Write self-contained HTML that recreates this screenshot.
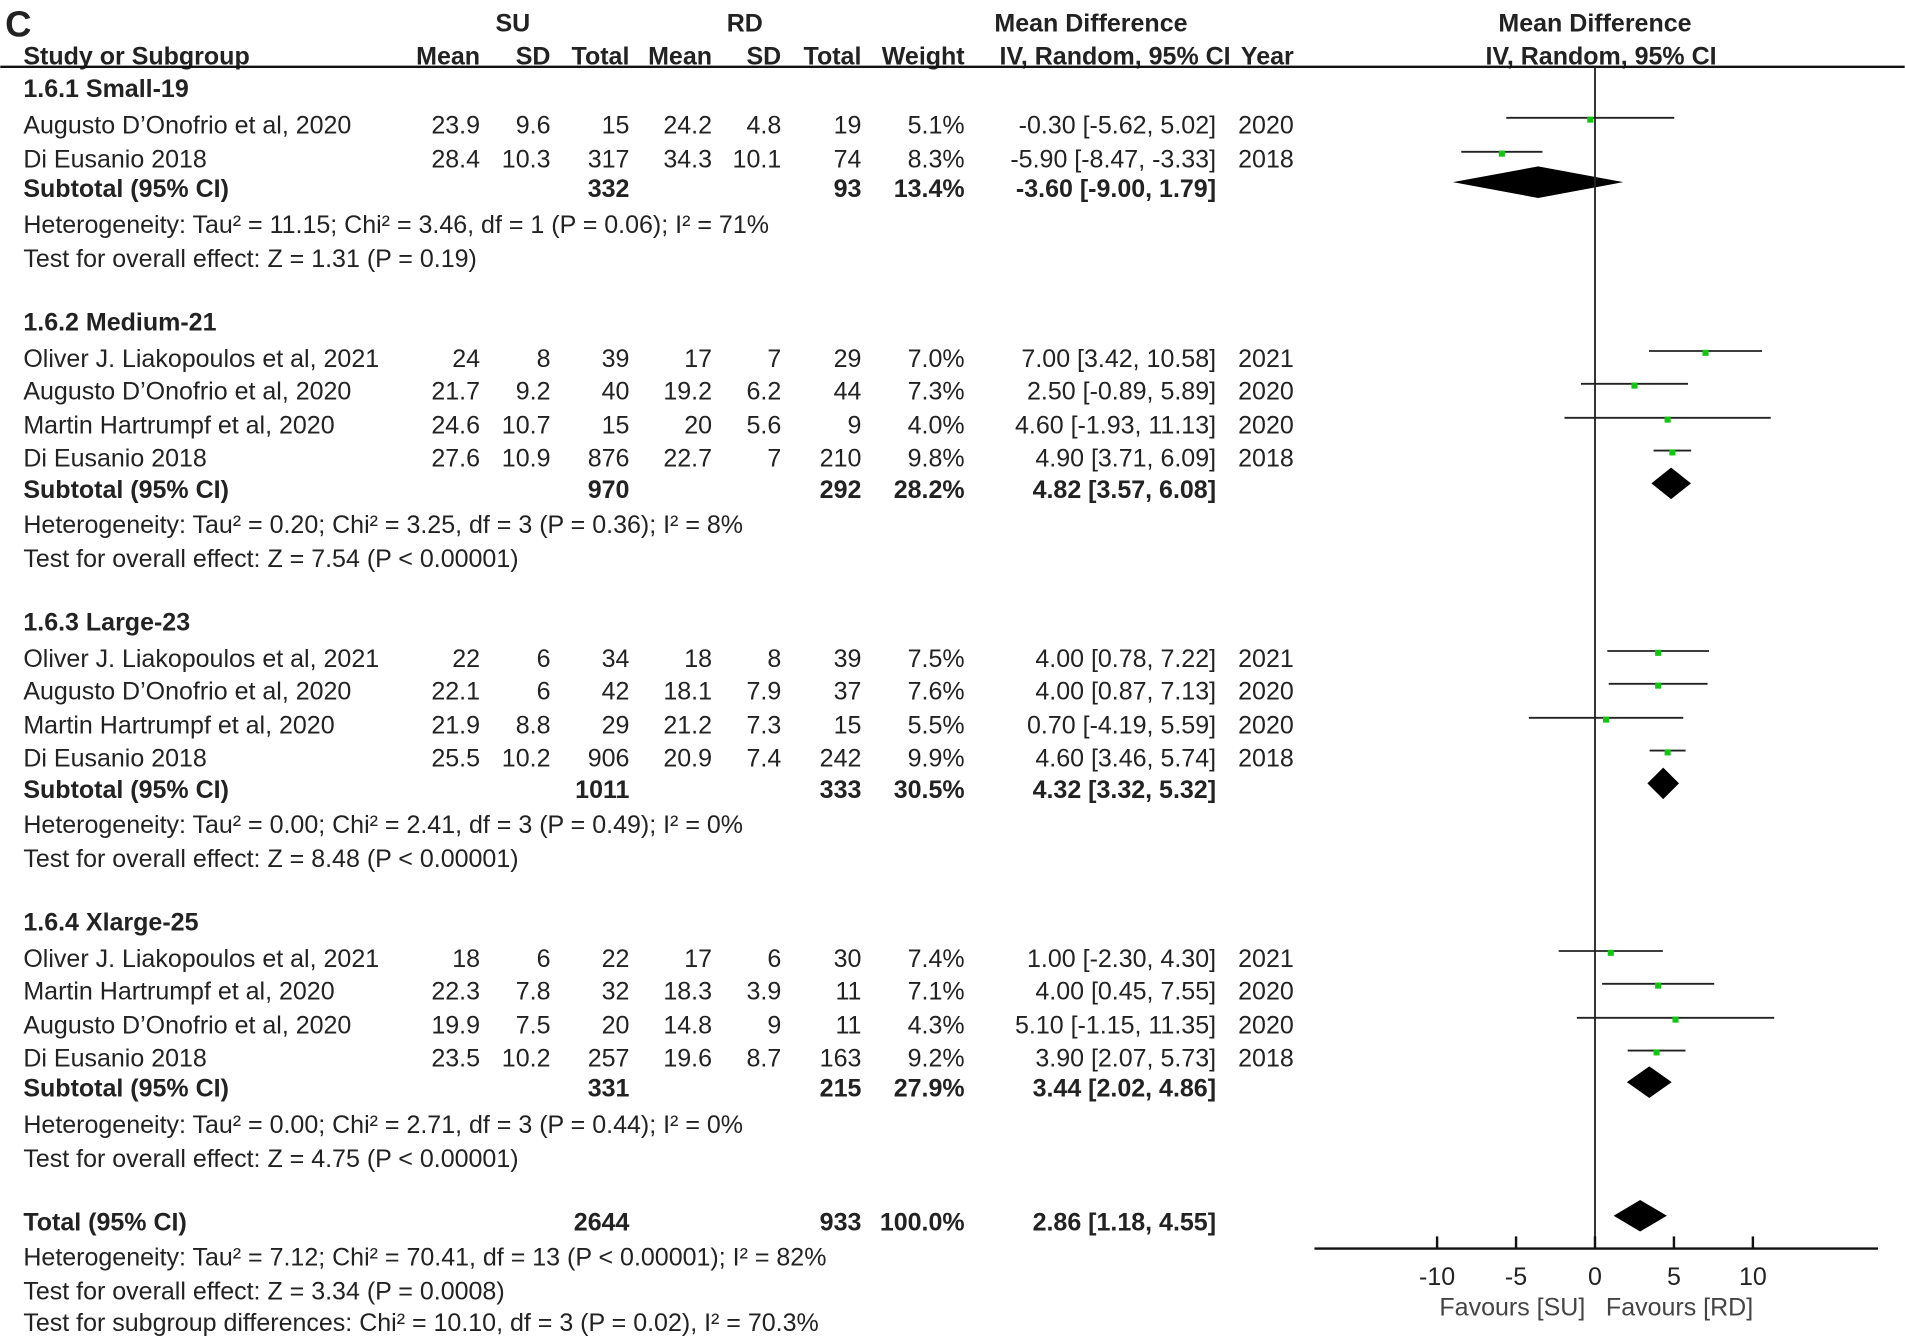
<!DOCTYPE html>
<html><head><meta charset="utf-8"><style>
html,body{margin:0;padding:0;background:#fff;width:1905px;height:1336px;overflow:hidden}
svg{display:block}
text{font-family:"Liberation Sans",Arial,sans-serif;font-size:20.6px;fill:#222}
.b{font-weight:bold}
</style></head><body>
<svg id="plot" width="1905" height="1336" viewBox="0 0 1568 1100" xmlns="http://www.w3.org/2000/svg">
<g id="hdr">
<text x="4" y="30" class="b" style="font-size:30px">C</text>
<text x="422" y="26" class="b" text-anchor="middle">SU</text>
<text x="613" y="26" class="b" text-anchor="middle">RD</text>
<text x="898" y="26" class="b" text-anchor="middle">Mean Difference</text>
<text x="1313" y="26" class="b" text-anchor="middle">Mean Difference</text>
<text x="19" y="53" class="b">Study or Subgroup</text>
<text x="395" y="53" class="b" text-anchor="end">Mean</text>
<text x="453" y="53" class="b" text-anchor="end">SD</text>
<text x="518" y="53" class="b" text-anchor="end">Total</text>
<text x="586" y="53" class="b" text-anchor="end">Mean</text>
<text x="643" y="53" class="b" text-anchor="end">SD</text>
<text x="709" y="53" class="b" text-anchor="end">Total</text>
<text x="794" y="53" class="b" text-anchor="end">Weight</text>
<text x="1013" y="53" class="b" text-anchor="end">IV, Random, 95% CI</text>
<text x="1065" y="53" class="b" text-anchor="end">Year</text>
<text x="1318" y="53" class="b" text-anchor="middle">IV, Random, 95% CI</text>
</g>
<line x1="0" y1="55" x2="1568" y2="55" stroke="#111" stroke-width="2"/>
<g id="rows"></g>
<g id="marks"></g>
<g id="axis"></g>
</svg>
<script>
const groupTitles=["1.6.1 Small-19","1.6.2 Medium-21","1.6.3 Large-23","1.6.4 Xlarge-25"];
const groupTitleY=[80,272,519,766];
const studyNames=["Augusto D’Onofrio et al, 2020","Di Eusanio 2018","Oliver J. Liakopoulos et al, 2021","Augusto D’Onofrio et al, 2020","Martin Hartrumpf et al, 2020","Di Eusanio 2018","Oliver J. Liakopoulos et al, 2021","Augusto D’Onofrio et al, 2020","Martin Hartrumpf et al, 2020","Di Eusanio 2018","Oliver J. Liakopoulos et al, 2021","Martin Hartrumpf et al, 2020","Augusto D’Onofrio et al, 2020","Di Eusanio 2018"];
const studyY=[110,138,302,329,357,384,549,576,604,631,796,823,851,878];
const suMean=["23.9","28.4","24","21.7","24.6","27.6","22","22.1","21.9","25.5","18","22.3","19.9","23.5"];
const suSD=["9.6","10.3","8","9.2","10.7","10.9","6","6","8.8","10.2","6","7.8","7.5","10.2"];
const suN=["15","317","39","40","15","876","34","42","29","906","22","32","20","257"];
const rdMean=["24.2","34.3","17","19.2","20","22.7","18","18.1","21.2","20.9","17","18.3","14.8","19.6"];
const rdSD=["4.8","10.1","7","6.2","5.6","7","8","7.9","7.3","7.4","6","3.9","9","8.7"];
const rdN=["19","74","29","44","9","210","39","37","15","242","30","11","11","163"];
const weights=["5.1%","8.3%","7.0%","7.3%","4.0%","9.8%","7.5%","7.6%","5.5%","9.9%","7.4%","7.1%","4.3%","9.2%"];
const md=[-0.30,-5.90,7.00,2.50,4.60,4.90,4.00,4.00,0.70,4.60,1.00,4.00,5.10,3.90];
const lo=[-5.62,-8.47,3.42,-0.89,-1.93,3.71,0.78,0.87,-4.19,3.46,-2.30,0.45,-1.15,2.07];
const hi=[5.02,-3.33,10.58,5.89,11.13,6.09,7.22,7.13,5.59,5.74,4.30,7.55,11.35,5.73];
const years=["2020","2018","2021","2020","2020","2018","2021","2020","2020","2018","2021","2020","2020","2018"];
const subLabels=["Subtotal (95% CI)","Subtotal (95% CI)","Subtotal (95% CI)","Subtotal (95% CI)","Total (95% CI)"];
const subY=[162,410,657,903,1013];
const subSuN=["332","970","1011","331","2644"];
const subRdN=["93","292","333","215","933"];
const subW=["13.4%","28.2%","30.5%","27.9%","100.0%"];
const subMd=[-3.60,4.82,4.32,3.44,2.86];
const subLo=[-9.00,3.57,3.32,2.02,1.18];
const subHi=[1.79,6.08,5.32,4.86,4.55];
const notes=["Heterogeneity: Tau² = 11.15; Chi² = 3.46, df = 1 (P = 0.06); I² = 71%","Test for overall effect: Z = 1.31 (P = 0.19)","Heterogeneity: Tau² = 0.20; Chi² = 3.25, df = 3 (P = 0.36); I² = 8%","Test for overall effect: Z = 7.54 (P < 0.00001)","Heterogeneity: Tau² = 0.00; Chi² = 2.41, df = 3 (P = 0.49); I² = 0%","Test for overall effect: Z = 8.48 (P < 0.00001)","Heterogeneity: Tau² = 0.00; Chi² = 2.71, df = 3 (P = 0.44); I² = 0%","Test for overall effect: Z = 4.75 (P < 0.00001)","Heterogeneity: Tau² = 7.12; Chi² = 70.41, df = 13 (P < 0.00001); I² = 82%","Test for overall effect: Z = 3.34 (P = 0.0008)","Test for subgroup differences: Chi² = 10.10, df = 3 (P = 0.02), I² = 70.3%"];
const noteY=[192,220,439,467,686,714,933,961,1042,1070,1096];
const ticks=[-10,-5,0,5,10];
const tickLabels=["-10","-5","0","5","10"];

const NS="http://www.w3.org/2000/svg";
const x0=1313, pxPerUnit=13, axisY=1028;
function xs(v){return x0+v*pxPerUnit;}
function mk(tag,attrs,parent,txt){const e=document.createElementNS(NS,tag);for(const k in attrs)e.setAttribute(k,attrs[k]);if(txt!=null)e.textContent=txt;parent.appendChild(e);return e;}
const rows=document.getElementById('rows'), marks=document.getElementById('marks'), axis=document.getElementById('axis');
function txt(x,y,s,anchor,bold,name){const t=mk('text',{x:x,y:y,'text-anchor':anchor||'start'},rows,s);if(bold)t.setAttribute('class','b');


return t;}
const colX=[395,453,518,586,643,709,794,1001,1065];
groupTitles.forEach((g,i)=>txt(19,groupTitleY[i],g,'start',true,'subgroup-title'));
studyNames.forEach((n,i)=>{
  const y=studyY[i];
  txt(19,y,n,'start',false,'study-name');
  const vals=[suMean[i],suSD[i],suN[i],rdMean[i],rdSD[i],rdN[i],weights[i],md[i].toFixed(2)+" ["+lo[i].toFixed(2)+", "+hi[i].toFixed(2)+"]",years[i]];
  vals.forEach((v,j)=>txt(colX[j],y,v,'end',false,'study-value'));
  const ly=y-13;
  const l=mk('line',{x1:xs(lo[i]),x2:xs(hi[i]),y1:ly,y2:ly,stroke:'#222','stroke-width':1.5},marks);
  
  
  const s=mk('rect',{x:xs(md[i])-2.5,y:ly-1,width:5,height:5,fill:'#11c611'},marks);
  
  
});
subLabels.forEach((n,i)=>{
  const y=subY[i];
  txt(19,y,n,'start',true,'subtotal-label');
  txt(colX[2],y,subSuN[i],'end',true,'subtotal-value');
  txt(colX[5],y,subRdN[i],'end',true,'subtotal-value');
  txt(colX[6],y,subW[i],'end',true,'subtotal-value');
  txt(colX[7],y,subMd[i].toFixed(2)+" ["+subLo[i].toFixed(2)+", "+subHi[i].toFixed(2)+"]",'end',true,'subtotal-value');
  const cy=y-12;
  const d=mk('polygon',{points:`${xs(subLo[i])},${cy} ${xs(subMd[i])},${cy-13} ${xs(subHi[i])},${cy} ${xs(subMd[i])},${cy+13}`,fill:'#000'},marks);
  
  
});
notes.forEach((n,i)=>txt(19,noteY[i],n,'start',false,'stats-note'));
const zl=mk('line',{x1:x0,x2:x0,y1:55,y2:axisY,stroke:'#222','stroke-width':1.5},axis);


const al=mk('line',{x1:1082,x2:1546,y1:axisY,y2:axisY,stroke:'#111','stroke-width':2},axis);


ticks.forEach((t,i)=>{
  const tl=mk('line',{x1:xs(t),x2:xs(t),y1:axisY-10,y2:axisY,stroke:'#111','stroke-width':2},axis);
  
  
  const tt=mk('text',{x:xs(t),y:1058,'text-anchor':'middle'},axis,tickLabels[i]);
  
  
});
const f1=mk('text',{x:1305,y:1083,'text-anchor':'end',style:'fill:#444'},axis,'Favours [SU]');


const f2=mk('text',{x:1322,y:1083,'text-anchor':'start',style:'fill:#444'},axis,'Favours [RD]');


</script>
</body></html>
